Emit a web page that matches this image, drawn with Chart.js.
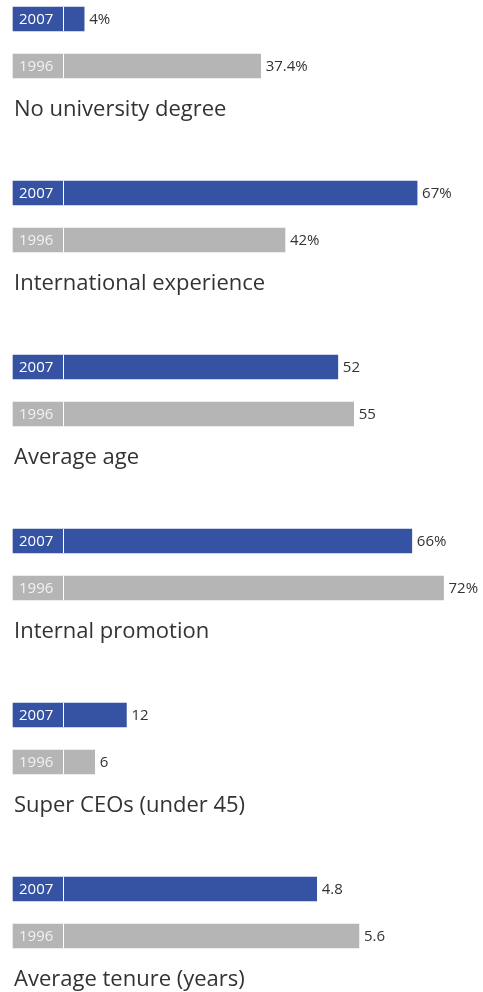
<!DOCTYPE html>
<html lang="en">
<head>
  <meta charset="utf-8">
  <title>CEO profile 2007 vs 1996</title>
  <script src="https://cdn.jsdelivr.net/npm/chart.js"></script>
  <style>
    * { box-sizing:border-box; margin:0; padding:0 }
    body { background:#fff; width:483px; height:992px; overflow:hidden; font-family:"Open Sans", sans-serif }
    .group { position:relative; width:483px; height:174px }
    .group canvas { position:absolute; left:0; top:0 }
    .title {
      position:absolute; left:14px; top:93px;
      font-size:22px; line-height:28px; color:#333; white-space:nowrap
    }
  </style>
</head>
<body>
  <div id="groups"></div>

  <script>
  // ===== DATA =====
  const categories = ['No university degree', 'International experience', 'Average age',
                      'Internal promotion', 'Super CEOs (under 45)', 'Average tenure (years)'];
  const years      = ['2007', '1996'];
  const values2007 = [4, 67, 52, 66, 12, 4.8];
  const values1996 = [37.4, 42, 55, 72, 6, 5.6];
  const units      = ['%', '%', '', '%', '', ''];
  const barScale   = [1, 1, 1, 1, 1, 10];   // tenure is drawn x10 in the original

  // ===== STYLE =====
  const BLUE  = '#3552a3';
  const GRAY  = '#b5b5b5';
  const INK   = '#333333';
  const X_MIN = -9.46;   // room for the year tag left of zero
  const X_MAX = 79.47;

  // tag text, white divider at zero, value label
  const barLabels = {
    id: 'barLabels',
    afterDatasetsDraw(chart, args, opts) {
      const ctx = chart.ctx;
      const x0 = Math.round(chart.scales.x.getPixelForValue(0));
      chart.getDatasetMeta(0).data.forEach((bar, j) => {
        const top = bar.y - bar.height / 2;
        ctx.save();
        ctx.fillStyle = '#fff';
        ctx.fillRect(x0, top, 1, bar.height);
        ctx.textBaseline = 'middle';
        ctx.font = '15px "Open Sans"';
        ctx.fillStyle = j === 0 ? '#fff' : '#f2f2f2';
        ctx.fillText(years[j], bar.base + 6, bar.y + 1);
        ctx.fillStyle = INK;
        ctx.fillText(opts.texts[j], bar.x + 5, bar.y + 1);
        ctx.restore();
      });
    }
  };

  const wrap = document.getElementById('groups');
  categories.forEach((cat, i) => {
    const g = document.createElement('div');
    g.className = 'group';
    const cv = document.createElement('canvas');
    cv.width = 483; cv.height = 174;
    const t = document.createElement('div');
    t.className = 'title';
    t.textContent = cat;
    g.appendChild(cv); g.appendChild(t);
    wrap.appendChild(g);

    const vals = [values2007[i], values1996[i]];
    new Chart(cv.getContext('2d'), {
      type: 'bar',
      data: {
        labels: years,
        datasets: [{
          data: vals.map(v => v * barScale[i]),
          backgroundColor: [BLUE, GRAY],
          barThickness: 24,
          base: X_MIN,
          clip: false
        }]
      },
      options: {
        indexAxis: 'y',
        responsive: false,
        animation: false,
        layout: { padding: { left: 13, right: 0, top: 19, bottom: 108 } },
        scales: {
          x: { type: 'linear', min: X_MIN, max: X_MAX, display: false },
          y: { type: 'category', offset: false, display: false }
        },
        plugins: {
          legend: { display: false },
          tooltip: { enabled: false },
          barLabels: { texts: vals.map(v => v + units[i]) }
        }
      },
      plugins: [barLabels]
    });
  });
  </script>
</body>
</html>
